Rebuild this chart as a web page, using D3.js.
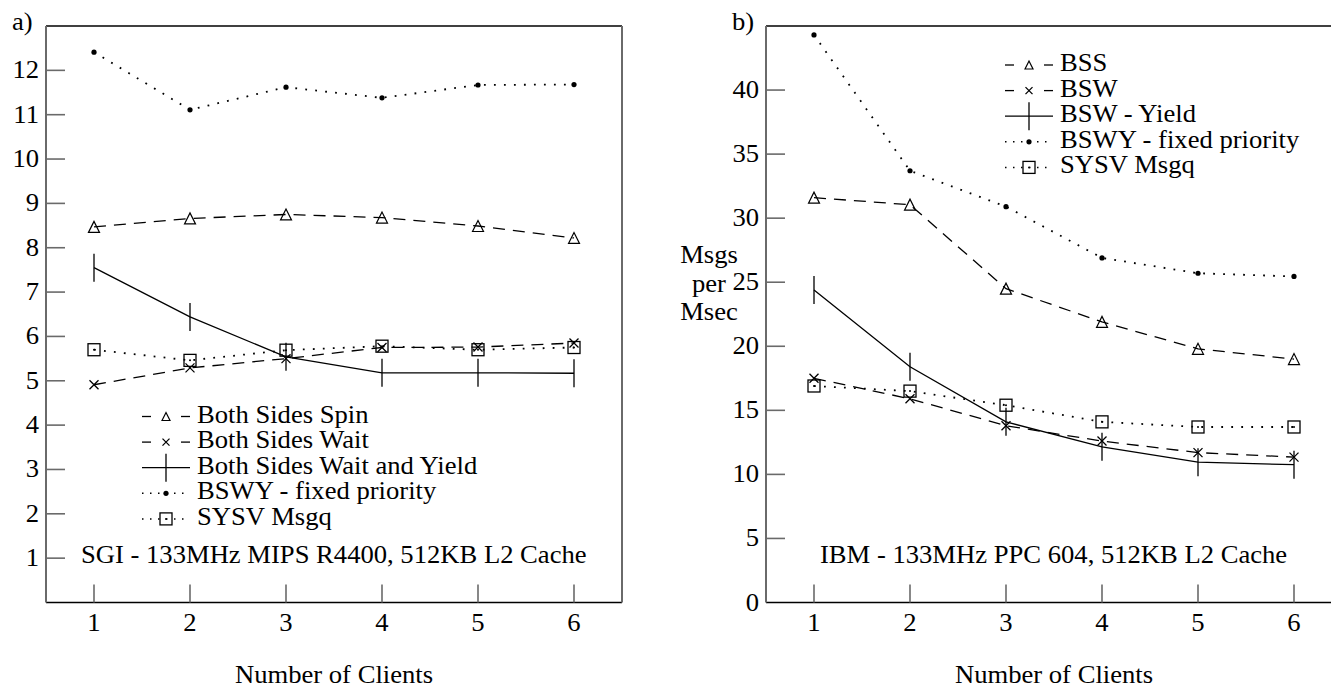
<!DOCTYPE html>
<html>
<head>
<meta charset="utf-8">
<script src="https://cdn.jsdelivr.net/npm/d3@7"></script>
<style>
  html, body { margin: 0; padding: 0; background: #fff; }
  svg { display: block; }
</style>
</head>
<body>
<div id="chart"></div>
<script>
"use strict";

// x values (number of clients)
const clients = [1, 2, 3, 4, 5, 6];

// a) SGI - 133MHz MIPS R4400
const sgiSpin  = [8.47, 8.66, 8.75, 8.68, 8.49, 8.22];
const sgiWait  = [4.91, 5.29, 5.50, 5.75, 5.76, 5.85];
const sgiYield = [7.55, 6.44, 5.54, 5.18, 5.18, 5.17];
const sgiFixed = [12.41, 11.11, 11.62, 11.38, 11.67, 11.68];
const sgiMsgq  = [5.70, 5.46, 5.69, 5.78, 5.70, 5.75];
const sgiTicks = [1, 2, 3, 4, 5, 6, 7, 8, 9, 10, 11, 12];
const sgiNames = ["Both Sides Spin", "Both Sides Wait", "Both Sides Wait and Yield", "BSWY - fixed priority", "SYSV Msgq"];

// b) IBM - 133MHz PPC 604
const ibmSpin  = [31.6, 31.05, 24.5, 21.9, 19.8, 19.0];
const ibmWait  = [17.5, 15.9, 13.8, 12.6, 11.7, 11.35];
const ibmYield = [24.4, 18.4, 14.1, 12.15, 10.95, 10.76];
const ibmFixed = [44.3, 33.7, 30.9, 26.9, 25.7, 25.45];
const ibmMsgq  = [16.9, 16.5, 15.4, 14.1, 13.7, 13.7];
const ibmTicks = [0, 5, 10, 15, 20, 25, 30, 35, 40];
const ibmNames = ["BSS", "BSW", "BSW - Yield", "BSWY - fixed priority", "SYSV Msgq"];

const W = 1331, H = 690;
const FONT = 25;
const STRETCH = 1.065; // reference text is a bit wider than plain Times
const AXIS_GRAY = "#6a6a6a";

const svg = d3.select("#chart").append("svg")
  .attr("width", W).attr("height", H);
svg.append("rect").attr("width", W).attr("height", H).attr("fill", "#fff");

// text with a slight horizontal stretch
function addText(g, x, y, str, anchor) {
  return g.append("text")
    .attr("transform", `translate(${x},${y}) scale(${STRETCH},1)`)
    .attr("text-anchor", anchor || "start")
    .attr("font-family", "'Liberation Serif', 'Times New Roman', serif")
    .attr("font-size", FONT)
    .attr("fill", "#000")
    .text(str);
}

// line style + marker per series slot
const styles = [
  { dash: "12,8", marker: "tri" },
  { dash: "12,8", marker: "cross" },
  { dash: null, marker: "vbar" },
  { dash: "1.8,8.2", marker: "dot" },
  { dash: "1.8,8.2", marker: "square" }
];

function drawMarker(g, type, x, y, small) {
  if (type == "tri") {
    let s = small ? 8 : 11;
    g.append("path")
      .attr("d", `M${x - s/2},${y + s/2} L${x},${y - s/2} L${x + s/2},${y + s/2} Z`)
      .attr("fill", "none").attr("stroke", "#000").attr("stroke-width", 1.2);
  } else if (type == "cross") {
    let s = small ? 3.5 : 4.5;
    g.append("path")
      .attr("d", `M${x - s},${y - s} L${x + s},${y + s} M${x - s},${y + s} L${x + s},${y - s}`)
      .attr("stroke", "#000").attr("stroke-width", 1.3);
  } else if (type == "vbar") {
    g.append("line")
      .attr("x1", x).attr("x2", x).attr("y1", y - 14).attr("y2", y + 14)
      .attr("stroke", "#000").attr("stroke-width", 1.3);
  } else if (type == "dot") {
    g.append("circle").attr("cx", x).attr("cy", y).attr("r", 2.6).attr("fill", "#000");
  } else if (type == "square") {
    g.append("rect")
      .attr("x", x - 6).attr("y", y - 6).attr("width", 12).attr("height", 12)
      .attr("fill", "none").attr("stroke", "#000").attr("stroke-width", 1.3);
    g.append("circle").attr("cx", x).attr("cy", y).attr("r", 1).attr("fill", "#000");
  }
}

function drawPanel(cfg) {
  const g = svg.append("g");
  const x = d3.scaleLinear().domain([0.5, 6.5]).range([cfg.left, cfg.left + 576]);
  const y = d3.scaleLinear().domain(cfg.yDomain).range([602.5, 26]);
  const [x0, x1] = x.range();
  const [yb, yt] = y.range();

  // frame
  g.append("line").attr("x1", x0).attr("x2", x1).attr("y1", yt).attr("y2", yt)
    .attr("stroke", "#000").attr("stroke-width", 1.6);
  g.append("line").attr("x1", x0).attr("x2", x1).attr("y1", yb).attr("y2", yb)
    .attr("stroke", "#000").attr("stroke-width", 1.6);
  g.append("line").attr("x1", x0).attr("x2", x0).attr("y1", yt).attr("y2", yb)
    .attr("stroke", AXIS_GRAY).attr("stroke-width", 2);
  g.append("line").attr("x1", x1).attr("x2", x1).attr("y1", yt).attr("y2", yb)
    .attr("stroke", AXIS_GRAY).attr("stroke-width", 2);

  // y ticks (inward) + labels
  cfg.yTicks.forEach(t => {
    if (t != 0)
      g.append("line").attr("x1", x0).attr("x2", x0 + 19).attr("y1", y(t)).attr("y2", y(t))
        .attr("stroke", AXIS_GRAY).attr("stroke-width", 1.6);
    addText(g, x0 - 7, y(t) + 8, t, "end");
  });

  // x ticks (upward) + labels
  clients.forEach(c => {
    g.append("line").attr("x1", x(c)).attr("x2", x(c)).attr("y1", yb).attr("y2", yb - 18)
      .attr("stroke", AXIS_GRAY).attr("stroke-width", 1.6);
    addText(g, x(c), 631, c, "middle");
  });

  addText(g, (x0 + x1) / 2, 683, "Number of Clients", "middle");
  addText(g, x0 - 34, 30, cfg.tag);
  addText(g, cfg.captionX, 563, cfg.caption);

  // series
  const line = d3.line().x((d, i) => x(clients[i])).y(d => y(d));
  cfg.series.forEach((vals, k) => {
    const st = styles[k];
    const dotted = st.dash && st.dash.startsWith("1.8");
    g.append("path").datum(vals).attr("d", line)
      .attr("fill", "none").attr("stroke", "#000").attr("stroke-width", dotted ? 1.8 : 1.3)
      .attr("stroke-dasharray", st.dash);
    vals.forEach((v, i) => drawMarker(g, st.marker, x(clients[i]), y(v), false));
  });

  // legend
  cfg.names.forEach((name, k) => {
    const st = styles[k];
    const by = cfg.legendY + k * 25.6;
    const ly = by - 6;
    const lx = cfg.legendX;
    if (st.marker == "vbar") {
      g.append("line").attr("x1", lx).attr("x2", lx + 48).attr("y1", ly).attr("y2", ly)
        .attr("stroke", "#000").attr("stroke-width", 1.3);
    } else if (st.dash.startsWith("12")) {
      g.append("line").attr("x1", lx).attr("x2", lx + 9).attr("y1", ly).attr("y2", ly)
        .attr("stroke", "#000").attr("stroke-width", 1.3);
      g.append("line").attr("x1", lx + 39).attr("x2", lx + 48).attr("y1", ly).attr("y2", ly)
        .attr("stroke", "#000").attr("stroke-width", 1.3);
    } else {
      g.append("line").attr("x1", lx).attr("x2", lx + 48).attr("y1", ly).attr("y2", ly)
        .attr("stroke", "#000").attr("stroke-width", 1.5).attr("stroke-dasharray", "1.5,6.5");
    }
    drawMarker(g, st.marker, lx + 24, ly, true);
    addText(g, lx + 55, by, name);
  });

  if (cfg.yTitle) {
    cfg.yTitle.forEach((t, i) => addText(g, x0 - 57, 263 + i * 28.5, t, "middle"));
  }
}

drawPanel({
  left: 46, tag: "a)", yDomain: [0, 13], yTicks: sgiTicks,
  series: [sgiSpin, sgiWait, sgiYield, sgiFixed, sgiMsgq], names: sgiNames,
  legendX: 142, legendY: 422.5,
  caption: "SGI - 133MHz MIPS R4400, 512KB L2 Cache", captionX: 81
});

drawPanel({
  left: 766, tag: "b)", yDomain: [0, 45], yTicks: ibmTicks,
  series: [ibmSpin, ibmWait, ibmYield, ibmFixed, ibmMsgq], names: ibmNames,
  legendX: 1005, legendY: 71,
  caption: "IBM - 133MHz PPC 604, 512KB L2 Cache", captionX: 820,
  yTitle: ["Msgs", "per", "Msec"]
});
</script>
</body>
</html>
